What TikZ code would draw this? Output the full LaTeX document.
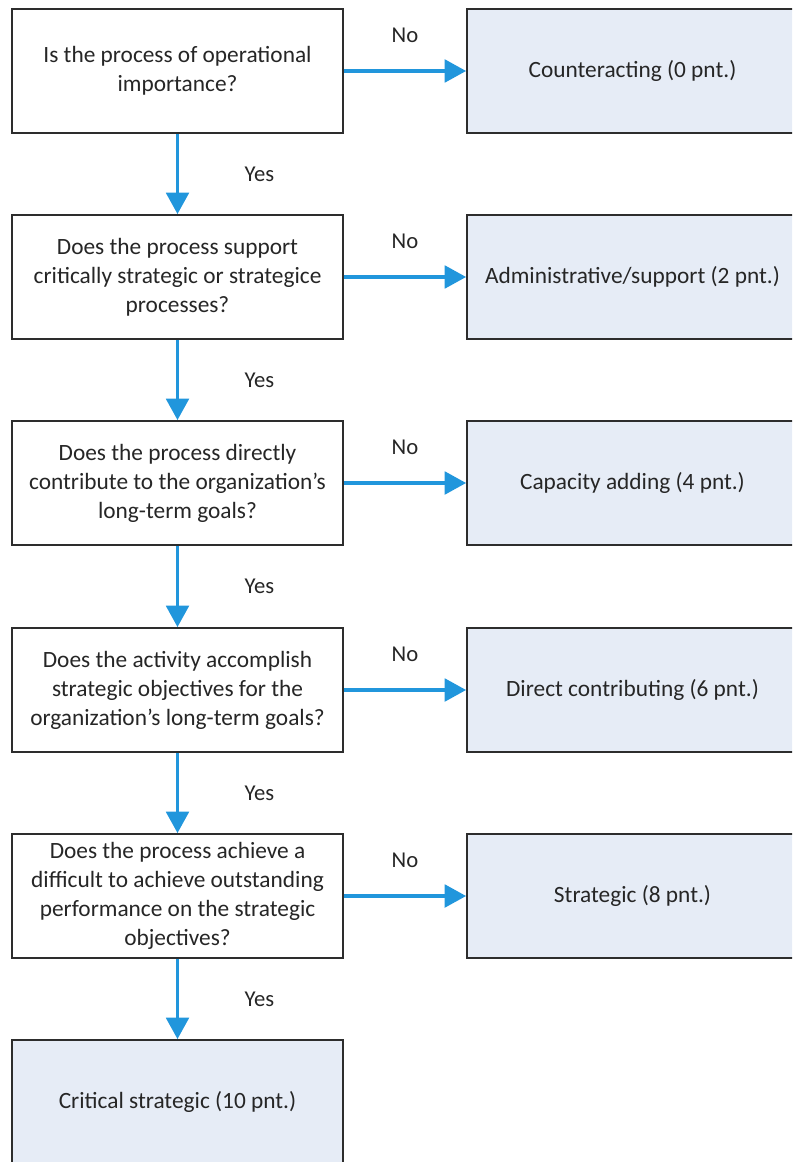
\documentclass[tikz,border=0pt]{standalone}
\usepackage{fontspec}
\setmainfont{Carlito}
\usetikzlibrary{arrows.meta,calc}
\definecolor{arrowblue}{RGB}{33,150,220}
\definecolor{boxfill}{RGB}{230,236,246}
\definecolor{boxline}{RGB}{45,45,45}
\begin{document}
\begin{tikzpicture}[x=0.75pt,y=-0.75pt,
  qbox/.style={draw=boxline,line width=1.4pt,fill=white,minimum width=331*0.75pt,minimum height=124*0.75pt,align=center,inner sep=0pt,font=\fontsize{17.5}{21.75}\selectfont,text=black!85},
  abox/.style={qbox,fill=boxfill},
  flow/.style={draw=arrowblue,line width=2.3pt,-{Triangle[length=16pt,width=17pt]}},
  lbl/.style={font=\fontsize{17}{20}\selectfont,text=black!85}]
\path[use as bounding box] (0,0) rectangle (792,1162);
\clip (0,0) rectangle (792,1162);
\node[qbox] (q1) at (177.5,71) {Is the process of operational\\importance?};
\node[qbox] (q2) at (177.5,277) {Does the process support\\critically strategic or strategice\\processes?};
\node[qbox] (q3) at (177.5,483) {Does the process directly\\contribute to the organization’s\\long-term goals?};
\node[qbox] (q4) at (177.5,690) {Does the activity accomplish\\strategic objectives for the\\organization’s long-term goals?};
\node[qbox] (q5) at (177.5,896) {Does the process achieve a\\difficult to achieve outstanding\\performance on the strategic\\objectives?};
\node[abox] (q6) at (177.5,1102) {Critical strategic (10 pnt.)};
\node[abox] (a1) at (632.5,71) {Counteracting (0 pnt.)};
\node[abox] (a2) at (632.5,277) {Administrative/support (2 pnt.)};
\node[abox] (a3) at (632.5,483) {Capacity adding (4 pnt.)};
\node[abox] (a4) at (632.5,690) {Direct contributing (6 pnt.)};
\node[abox] (a5) at (632.5,896) {Strategic (8 pnt.)};
\foreach \i/\j in {1/2,2/3,3/4,4/5,5/6}{
  \draw[flow] (q\i.south) -- (q\j.north);
  \node[lbl] (yes\i) at ($(q\i.south)!0.5!(q\j.north)+(82,0)$) {Yes};
}
\foreach \i in {1,...,5}{
  \draw[flow] (q\i.east) -- (a\i.west);
  \node[lbl] (no\i) at ($(q\i.east)+(61,-36)$) {No};
}
\end{tikzpicture}
\end{document}
